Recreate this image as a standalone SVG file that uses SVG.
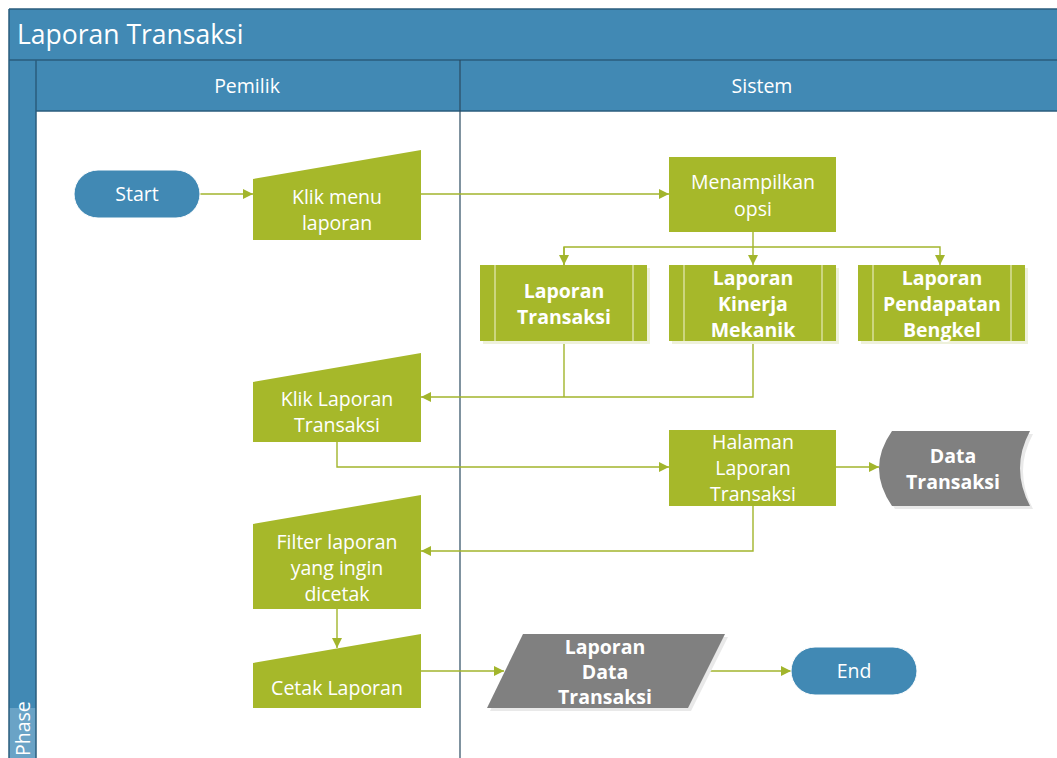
<svg xmlns="http://www.w3.org/2000/svg" width="1057" height="758" viewBox="0 0 1057 758">
  <style>
    .band { fill: #4189b4; }
    .edge { stroke: #2a5c7c; stroke-width: 1.5; fill: none; }
    .act { fill: #a6b82a; }
    .data { fill: #808080; }
    .shadow-g { fill: #eef1da; }
    .shadow-d { fill: #e9e9e9; }
    .term { fill: #4189b4; stroke: #ffffff; stroke-width: 1; }
    .t { font-family: "Open Sans", "Noto Sans", "DejaVu Sans", sans-serif; font-size: 19.5px; fill: #ffffff; text-anchor: middle; dominant-baseline: central; }
    .b { font-weight: bold; }
    .title { font-family: "Open Sans", "Noto Sans", "DejaVu Sans", sans-serif; font-size: 26.5px; fill: #ffffff; }
    .conn { stroke: #a2b52c; stroke-width: 1.4; fill: none; }
    .inner { stroke: #e6eab8; stroke-width: 1.2; }
  </style>
  <defs>
    <marker id="arrow" viewBox="0 0 10 10" refX="10" refY="5" markerWidth="10" markerHeight="10" markerUnits="userSpaceOnUse" orient="auto">
      <path d="M0,0 L10,5 L0,10 Z" fill="#a2b52c"/>
    </marker>
  </defs>

  <!-- background and pool frame -->
  <rect x="0" y="0" width="1057" height="758" fill="#ffffff"/>
  <rect x="9" y="9" width="1060" height="51" class="band"/>
  <rect x="9" y="60" width="27" height="700" class="band"/>
  <rect x="9" y="708" width="27" height="52" fill="#6aa3c6"/>
  <rect x="36" y="60" width="1030" height="51" class="band"/>
  <line x1="9" y1="9" x2="1057" y2="9" class="edge"/>
  <line x1="9" y1="9" x2="9" y2="758" class="edge"/>
  <line x1="9" y1="60" x2="1057" y2="60" class="edge"/>
  <line x1="36" y1="111" x2="1057" y2="111" class="edge"/>
  <line x1="36" y1="60" x2="36" y2="758" class="edge"/>
  <line x1="460" y1="60" x2="460" y2="758" stroke="#2a4a60" stroke-width="1.2"/>

  <text x="17" y="34" class="title" dominant-baseline="central">Laporan Transaksi</text>
  <text x="247" y="85" class="t">Pemilik</text>
  <text x="762" y="85" class="t">Sistem</text>
  <text x="22" y="756" class="t" style="text-anchor:start" transform="rotate(-90 22 756)">Phase</text>

  <!-- connectors -->
  <g id="connectors">
    <line x1="200" y1="194" x2="253" y2="194" class="conn" marker-end="url(#arrow)"/>
    <line x1="421" y1="194" x2="669" y2="194" class="conn" marker-end="url(#arrow)"/>
    <line x1="753" y1="232" x2="753" y2="265" class="conn" marker-end="url(#arrow)"/>
    <polyline points="564,265 564,247 940,247 940,265" class="conn" marker-end="url(#arrow)"/>
    <line x1="564" y1="247" x2="564" y2="265" class="conn" marker-end="url(#arrow)"/>
    <line x1="564" y1="341" x2="564" y2="397" class="conn"/>
    <polyline points="753,341 753,397 421,397" class="conn" marker-end="url(#arrow)"/>
    <polyline points="337,442 337,467 669,467" class="conn" marker-end="url(#arrow)"/>
    <line x1="836" y1="467" x2="879" y2="467" class="conn" marker-end="url(#arrow)"/>
    <polyline points="753,506 753,551 421,551" class="conn" marker-end="url(#arrow)"/>
    <line x1="337" y1="609" x2="337" y2="648" class="conn" marker-end="url(#arrow)"/>
    <line x1="420" y1="671" x2="504" y2="671" class="conn" marker-end="url(#arrow)"/>
    <line x1="707" y1="671" x2="791" y2="671" class="conn" marker-end="url(#arrow)"/>
  </g>

  <!-- Pemilik lane -->
  <g id="start">
    <rect x="74" y="170" width="126" height="48" rx="24" class="term"/>
    <text x="137" y="193" class="t">Start</text>
  </g>
  <g id="klik-menu">
    <path d="M253,179 L421,150 L421,240 L253,240 Z" class="act"/>
    <text x="337" y="196" class="t">Klik menu</text>
    <text x="337" y="222" class="t">laporan</text>
  </g>
  <g id="klik-laporan">
    <path d="M253,382 L421,353 L421,442 L253,442 Z" class="act"/>
    <text x="337" y="398" class="t">Klik Laporan</text>
    <text x="337" y="424" class="t">Transaksi</text>
  </g>
  <g id="filter">
    <path d="M253,524 L421,495 L421,609 L253,609 Z" class="act"/>
    <text x="337" y="541" class="t">Filter laporan</text>
    <text x="337" y="567" class="t">yang ingin</text>
    <text x="337" y="593" class="t">dicetak</text>
  </g>
  <g id="cetak">
    <path d="M253,663 L421,634 L421,708 L253,708 Z" class="act"/>
    <text x="337" y="687" class="t">Cetak Laporan</text>
  </g>

  <!-- Sistem lane -->
  <g id="menampilkan">
    <rect x="669" y="157" width="167" height="75" class="act"/>
    <text x="753" y="181" class="t">Menampilkan</text>
    <text x="753" y="208" class="t">opsi</text>
  </g>
  <g id="lap-transaksi">
    <rect x="483" y="268" width="167" height="76" class="shadow-g"/>
    <rect x="480" y="265" width="167" height="76" class="act"/>
    <line x1="495" y1="265" x2="495" y2="341" class="inner"/>
    <line x1="633" y1="265" x2="633" y2="341" class="inner"/>
    <text x="564" y="290" class="t b">Laporan</text>
    <text x="564" y="316" class="t b">Transaksi</text>
  </g>
  <g id="lap-kinerja">
    <rect x="672" y="268" width="167" height="76" class="shadow-g"/>
    <rect x="669" y="265" width="167" height="76" class="act"/>
    <line x1="684" y1="265" x2="684" y2="341" class="inner"/>
    <line x1="822" y1="265" x2="822" y2="341" class="inner"/>
    <text x="753" y="277" class="t b">Laporan</text>
    <text x="753" y="303" class="t b">Kinerja</text>
    <text x="753" y="329" class="t b">Mekanik</text>
  </g>
  <g id="lap-pendapatan">
    <rect x="861" y="268" width="167" height="76" class="shadow-g"/>
    <rect x="858" y="265" width="167" height="76" class="act"/>
    <line x1="873" y1="265" x2="873" y2="341" class="inner"/>
    <line x1="1011" y1="265" x2="1011" y2="341" class="inner"/>
    <text x="942" y="277" class="t b">Laporan</text>
    <text x="942" y="303" class="t b">Pendapatan</text>
    <text x="942" y="329" class="t b">Bengkel</text>
  </g>
  <g id="halaman">
    <rect x="669" y="430" width="167" height="76" class="act"/>
    <text x="753" y="441" class="t">Halaman</text>
    <text x="753" y="467" class="t">Laporan</text>
    <text x="753" y="493" class="t">Transaksi</text>
  </g>
  <g id="data-transaksi">
    <path d="M895,434 L1033,434 Q1013,471 1033,509 L895,509 Q869,471 895,434 Z" class="shadow-d"/>
    <path d="M892,431 L1030,431 Q1010,468 1030,506 L892,506 Q866,468 892,431 Z" class="data"/>
    <text x="953" y="455" class="t b">Data</text>
    <text x="953" y="481" class="t b">Transaksi</text>
  </g>
  <g id="laporan-data">
    <path d="M526,637 L728,637 L691,711 L490,711 Z" class="shadow-d"/>
    <path d="M523,634 L725,634 L688,708 L487,708 Z" class="data"/>
    <text x="605" y="646" class="t b">Laporan</text>
    <text x="605" y="671" class="t b">Data</text>
    <text x="605" y="696" class="t b">Transaksi</text>
  </g>
  <g id="end">
    <rect x="791" y="647" width="126" height="48" rx="24" class="term"/>
    <text x="854" y="670" class="t">End</text>
  </g>
</svg>
